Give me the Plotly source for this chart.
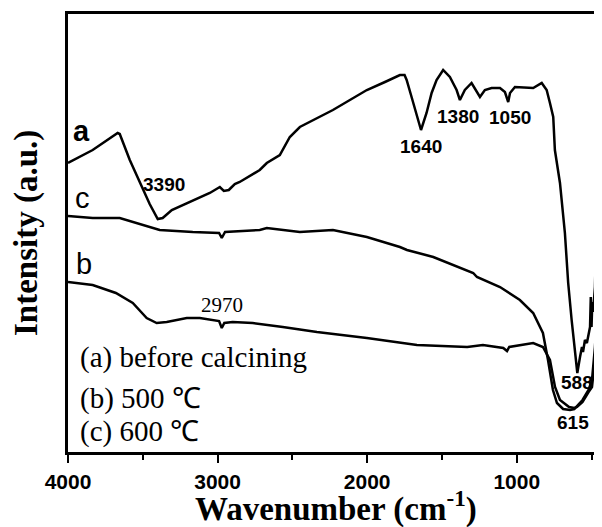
import plotly.graph_objects as go

# Wavenumber (cm-1) and intensity (a.u.)
a_wn = [4000, 3835, 3668, 3654, 3587, 3520, 3454, 3400, 3367, 3306, 3186, 3052, 2985, 2958,
        2925, 2885, 2852, 2718, 2671, 2584, 2517, 2450, 2229, 2002, 1881, 1781, 1750, 1736,
        1703, 1670, 1640, 1603, 1569, 1536, 1492, 1447, 1402, 1380, 1347, 1302, 1268, 1246,
        1213, 1168, 1112, 1079, 1057, 1045, 1012, 934, 890, 833, 800, 778, 756, 745, 711,
        678, 656, 633, 615, 595, 577, 564, 557, 544, 531, 510, 505, 500, 495, 490, 477, 464,
        444, 430]
a_int = [289, 302, 319, 318, 292, 270, 248, 233, 234, 242, 250, 259, 265, 261,
         262, 268, 270, 282, 289, 297, 315, 325, 342, 362, 370, 377, 377, 372,
         355, 339, 322, 339, 359, 372, 382, 375, 362, 352, 362, 369, 360, 355,
         362, 364, 364, 360, 350, 359, 365, 364, 364, 369, 362, 349, 335, 302, 269,
         219, 169, 132, 105, 79, 95, 105, 100, 112, 109, 125, 155, 125, 150, 140, 165, 242,
         302, 322]

b_wn = [4000, 3835, 3680, 3567, 3474, 3407, 3340, 3206, 3119, 3032, 2990, 2972, 2955, 2899,
        2765, 2564, 2336, 2002, 1667, 1331, 1226, 1090, 1065, 1050, 890, 825, 778, 744,
        711, 650, 615, 597, 560, 520, 497, 477, 464, 444, 430]
b_int = [170, 167, 159, 149, 134, 129, 130, 134, 134, 132, 131, 124, 129, 130,
         129, 125, 120, 114, 107, 105, 107, 104, 101, 105, 109, 105, 92, 65,
         52, 45, 44, 45, 50, 60, 65, 92, 122, 172, 222]

c_wn = [4000, 3835, 3654, 3540, 3387, 3166, 2990, 2972, 2950, 2718, 2671, 2450, 2229, 2002,
        1781, 1734, 1558, 1291, 1266, 1112, 979, 890, 825, 791, 758, 731, 690, 644, 615,
        597, 560, 520, 497, 477, 457, 444, 430]
c_int = [236, 234, 234, 229, 222, 220, 219, 214, 220, 222, 224, 220, 222, 215,
         205, 202, 195, 179, 175, 165, 152, 139, 119, 92, 62, 49, 43, 42, 43,
         46, 52, 62, 72, 105, 150, 185, 230]

curve_labels = ["a", "c", "b"]
peak_labels = ["3390", "1640", "1380", "1050", "588", "615"]
legend_lines = ["(a) before calcining", "(b) 500 ℃", "(c) 600 ℃"]
major_ticks = [4000, 3000, 2000, 1000]

SERIF = "Liberation Serif, Times New Roman, serif"
SANS = "Liberation Sans, Arial, sans-serif"

fig = go.Figure()
for xs, ys in [(a_wn, a_int), (b_wn, b_int), (c_wn, c_int)]:
    fig.add_trace(go.Scatter(x=xs, y=ys, mode="lines",
                             line=dict(color="black", width=2.5),
                             showlegend=False, hoverinfo="skip"))

# page offset of the figure (body margin) is 8 px
OFF = 8
PL, PT, PR, PB = 68, 14, 602, 452   # plot box in page pixels
W, H = 602 - OFF, 527 - OFF
pw, ph = PR - PL, PB - PT


def px(xpix):
    return (xpix - PL) / pw


def py(ypix):
    return (PB - ypix) / ph


ann = []
for txt, (x0, y0), bold in zip(curve_labels, [(81, 131), (82, 198), (84, 264)], [True, False, False]):
    ann.append(dict(x=px(x0), y=py(y0), xref="paper", yref="paper", text=("<b>%s</b>" % txt) if bold else txt,
                    showarrow=False, font=dict(family=SANS, size=29, color="black"),
                    xanchor="center", yanchor="middle"))
for txt, (x0, y0) in zip(peak_labels, [(164, 184), (421, 147), (458, 116), (510, 117), (577, 382), (573, 422)]):
    ann.append(dict(x=px(x0), y=py(y0), xref="paper", yref="paper", text="<b>%s</b>" % txt,
                    showarrow=False, font=dict(family=SANS, size=19, color="black"),
                    xanchor="center", yanchor="middle"))
ann.append(dict(x=px(222), y=py(305), xref="paper", yref="paper", text="2970",
                showarrow=False, font=dict(family=SERIF, size=21, color="black"),
                xanchor="center", yanchor="middle"))
for txt, y0 in zip(legend_lines, [357, 398, 431]):
    ann.append(dict(x=px(78), y=py(y0), xref="paper", yref="paper", text=txt,
                    showarrow=False, font=dict(family=SERIF, size=29, color="black"),
                    xanchor="left", yanchor="middle"))
ann.append(dict(x=px(336), y=py(507), xref="paper", yref="paper",
                text="<b>Wavenumber (cm<sup>-1</sup>)</b>", showarrow=False,
                font=dict(family=SERIF, size=33, color="black"), xanchor="center", yanchor="middle"))
ann.append(dict(x=px(26), y=py(233), xref="paper", yref="paper",
                text="<b>Intensity (a.u.)</b>", showarrow=False, textangle=-90,
                font=dict(family=SERIF, size=33, color="black"), xanchor="center", yanchor="middle"))

fig.update_layout(
    width=W, height=H,
    margin=dict(l=PL - OFF, r=0, t=PT - OFF, b=H - (PB - OFF), autoexpand=False),
    paper_bgcolor="white", plot_bgcolor="white",
    annotations=ann,
    xaxis=dict(range=[4000, 430], tickvals=major_ticks, ticktext=["<b>%d</b>" % v for v in major_ticks],
               ticks="outside", ticklen=8, tickwidth=2, tickcolor="black", ticklabelstandoff=1,
               minor=dict(tickvals=[3500, 2500, 1500, 500], ticks="outside", ticklen=5, tickwidth=2, tickcolor="black"),
               showline=True, linewidth=2.5, linecolor="black", mirror=True,
               showgrid=False, zeroline=False,
               tickfont=dict(family=SANS, size=21, color="black")),
    yaxis=dict(range=[0, 438], showticklabels=False, ticks="",
               showline=True, linewidth=2.5, linecolor="black",
               showgrid=False, zeroline=False),
)

fig.write_html("out.html")
